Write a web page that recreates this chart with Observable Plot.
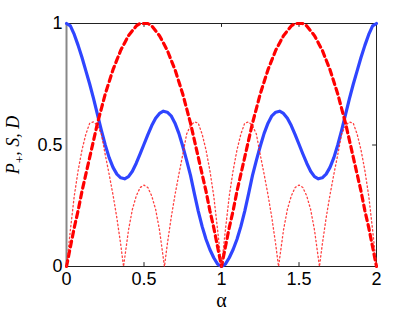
<!DOCTYPE html>
<html><head><meta charset="utf-8">
<script src="https://cdn.jsdelivr.net/npm/d3@7"></script>
<script src="https://cdn.jsdelivr.net/npm/@observablehq/plot@0.6"></script>
<style>body{margin:0;background:#fff} svg{display:block}</style>
</head><body><div id="chart"></div>
<script>
// alpha grid for P+ and S
const alpha = [0,0.025,0.05,0.075,0.1,0.125,0.15,0.175,0.2,0.225,0.25,0.275,0.3,0.325,0.35,0.375,0.4,0.425,0.45,0.475,0.5,0.525,0.55,0.575,0.6,0.625,0.65,0.675,0.7,0.725,0.75,0.775,0.8,0.825,0.85,0.875,0.9,0.925,0.95,0.975,1,
1.025,1.05,1.075,1.1,1.125,1.15,1.175,1.2,1.225,1.25,1.275,1.3,1.325,1.35,1.375,1.4,1.425,1.45,1.475,1.5,1.525,1.55,1.575,1.6,1.625,1.65,1.675,1.7,1.725,1.75,1.775,1.8,1.825,1.85,1.875,1.9,1.925,1.95,1.975,2];
// P+ (blue solid)
const pPlus = [1.000,0.990,0.955,0.910,0.860,0.805,0.750,0.690,0.625,0.560,0.500,0.448,0.408,0.380,0.365,0.361,0.370,0.392,0.425,0.463,0.503,0.543,0.580,0.610,0.630,0.639,0.635,0.620,0.590,0.548,0.495,0.437,0.375,0.300,0.228,0.165,0.112,0.070,0.036,0.010,0.000,
0.010,0.036,0.070,0.112,0.165,0.228,0.300,0.375,0.437,0.495,0.548,0.590,0.620,0.635,0.639,0.630,0.610,0.580,0.543,0.503,0.463,0.425,0.392,0.370,0.361,0.365,0.380,0.408,0.448,0.500,0.560,0.625,0.690,0.750,0.805,0.860,0.910,0.955,0.990,1.000];
// S (red dashed)
const sVals = [0,0.08,0.16,0.23,0.31,0.38,0.45,0.52,0.59,0.65,0.71,0.76,0.81,0.85,0.89,0.92,0.95,0.97,0.99,1.00,1.00,1.00,0.99,0.97,0.95,0.92,0.89,0.85,0.81,0.76,0.71,0.65,0.59,0.52,0.45,0.38,0.31,0.23,0.16,0.08,0,
0.08,0.16,0.23,0.31,0.38,0.45,0.52,0.59,0.65,0.71,0.76,0.81,0.85,0.89,0.92,0.95,0.97,0.99,1.00,1.00,1.00,0.99,0.97,0.95,0.92,0.89,0.85,0.81,0.76,0.71,0.65,0.59,0.52,0.45,0.38,0.31,0.23,0.16,0.08,0];
// D (red dotted)
const alphaD = [0,0.025,0.05,0.075,0.1,0.125,0.15,0.175,0.2,0.225,0.25,0.275,0.3,0.325,0.35,0.368,0.4,0.425,0.45,0.475,0.5,0.525,0.55,0.575,0.6,0.632,0.65,0.675,0.7,0.725,0.75,0.775,0.8,0.825,0.85,0.875,0.9,0.925,0.95,0.975,1,
1.025,1.05,1.075,1.1,1.125,1.15,1.175,1.2,1.225,1.25,1.275,1.3,1.325,1.35,1.368,1.4,1.425,1.45,1.475,1.5,1.525,1.55,1.575,1.6,1.632,1.65,1.675,1.7,1.725,1.75,1.775,1.8,1.825,1.85,1.875,1.9,1.925,1.95,1.975,2];
const dVals = [0,0.15,0.29,0.395,0.48,0.545,0.59,0.595,0.58,0.545,0.46,0.38,0.295,0.20,0.09,0,0.15,0.235,0.29,0.325,0.335,0.325,0.29,0.235,0.15,0,0.09,0.20,0.295,0.38,0.46,0.545,0.58,0.595,0.59,0.545,0.48,0.395,0.29,0.15,0,
0.15,0.29,0.395,0.48,0.545,0.59,0.595,0.58,0.545,0.46,0.38,0.295,0.20,0.09,0,0.15,0.235,0.29,0.325,0.335,0.325,0.29,0.235,0.15,0,0.09,0.20,0.295,0.38,0.46,0.545,0.58,0.595,0.59,0.545,0.48,0.395,0.29,0.15,0];

const xTicks = [0,0.5,1,1.5,2];
const xTickLabels = ["0","0.5","1","1.5","2"];
const yTicks = [0,0.5,1];
const yTickLabels = ["0","0.5","1"];
const xInner = [0.5,1,1.5];
const yInner = [0.5];

const lineData = alpha.map((a,i)=>({a, p:pPlus[i], s:sVals[i]}));
const dData = alphaD.map((a,i)=>({a, d:dVals[i]}));

const svg = Plot.plot({
  width:415, height:312,
  marginLeft:66, marginRight:39, marginTop:23, marginBottom:46,
  x:{domain:[0,2]}, y:{domain:[0,1]},
  style:{fontFamily:"'Liberation Sans', Arial, sans-serif", fontSize:"18px", background:"white", color:"#000"},
  marks:[
    Plot.frame({stroke:"#222", strokeWidth:1}),
    Plot.ruleX([0],{stroke:"#888", strokeWidth:2}),
    Plot.ruleX(xInner,{y1:0, y2:0.016, stroke:"#222"}),
    Plot.ruleX(xInner,{y1:1, y2:0.984, stroke:"#222"}),
    Plot.ruleY(yInner,{x1:2, x2:1.975, stroke:"#222"}),
    Plot.axisX(xTicks,{anchor:"bottom", tickSize:0, tickPadding:6, tickFormat:d=>xTickLabels[xTicks.indexOf(d)], fontSize:18, label:null}),
    Plot.axisY(yTicks,{anchor:"left", tickSize:0, tickPadding:4, tickFormat:d=>yTickLabels[yTicks.indexOf(d)], fontSize:18, label:null}),
    Plot.line(lineData,{x:"a", y:"p", stroke:"#2f45ff", strokeWidth:3.2}),
    Plot.line(lineData,{x:"a", y:"s", stroke:"#ff0000", strokeWidth:3.2, strokeDasharray:"6,4"}),
    Plot.line(dData,{x:"a", y:"d", stroke:"#ff2020", strokeWidth:1.3, strokeDasharray:"1.4,2.6", strokeOpacity:0.85}),
    Plot.text(["α"],{frameAnchor:"bottom", dy:40, fontSize:20, fontFamily:"'Liberation Serif', serif"})
  ]
});
document.getElementById("chart").append(svg);

const lab = d3.select(svg).append("text")
  .attr("transform","translate(19,145) rotate(-90)")
  .attr("text-anchor","middle")
  .style("font-family","'Liberation Serif','Times New Roman',serif")
  .style("font-size","18px")
  .style("font-style","italic")
  .attr("fill","#000");
lab.append("tspan").text("P");
lab.append("tspan").attr("dy",5).style("font-size","13px").style("font-style","normal").text("+");
lab.append("tspan").attr("dy",-5).text(", S, D");
</script>
</body></html>
